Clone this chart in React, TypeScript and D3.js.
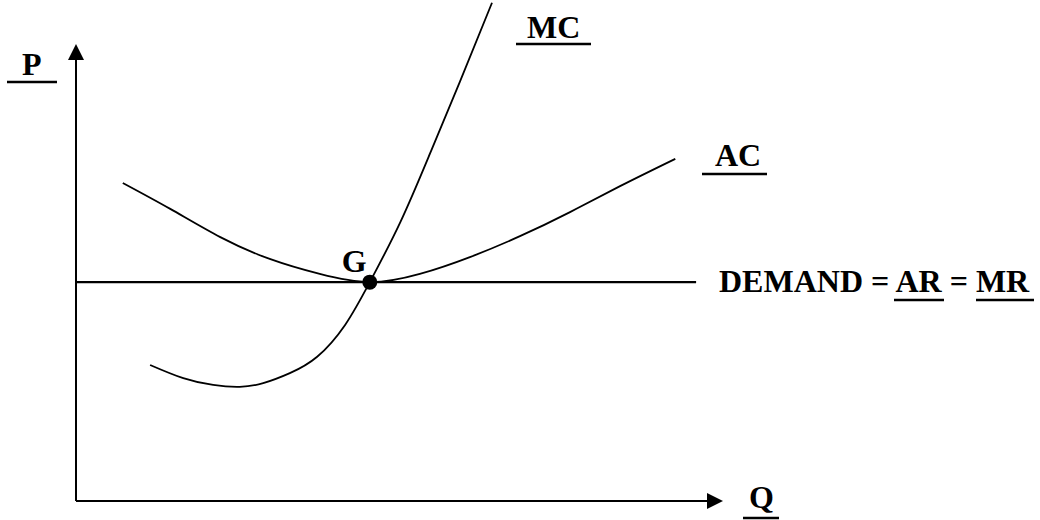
import React from 'react';
import * as d3 from 'd3';

// curves, in (quantity, price) units
const mcQ = [11.4, 16.5, 21.1, 25.2, 28.8, 32.9, 37.1, 41.4, 45.2, 49.9, 54.5, 59.1, 64.0];
const mcP = [29.9, 27.0, 25.5, 25.1, 25.9, 28.1, 31.7, 38.7, 48.1, 61.3, 76.5, 92.3, 109.5];
const acQ = [7.2, 14.5, 22.2, 29.8, 37.5, 45.2, 52.9, 60.6, 68.3, 76.0, 83.7, 92.2];
const acP = [69.9, 64.2, 58.0, 53.2, 49.9, 48.1, 49.9, 53.6, 58.2, 63.5, 69.2, 75.2];
const demandQ = [0, 95.4];
const demandP = [48.1, 48.1];
const equilibrium = { q: 45.2, p: 48.1, label: 'G' };

const W = 1040;
const H = 520;
const FONT = '"Liberation Serif", "Times New Roman", serif';

export default function App() {
  const x = d3.scaleLinear().domain([0, 100]).range([76, 726]);
  const y = d3.scaleLinear().domain([0, 100]).range([501, 46]);

  const line = d3
    .line<[number, number]>()
    .x((d) => x(d[0]))
    .y((d) => y(d[1]))
    .curve(d3.curveNatural);

  const mc = line(mcQ.map((q, i) => [q, mcP[i]]));
  const ac = line(acQ.map((q, i) => [q, acP[i]]));
  const demand = line(demandQ.map((q, i) => [q, demandP[i]]));

  const x0 = x(0);
  const y0 = y(0);
  const yTop = 44;
  const xEnd = 723;

  const txt = { fontFamily: FONT, fontWeight: 700, fontSize: 32, fill: '#000' };

  return (
    <svg width={W} height={H} style={{ position: 'absolute', left: 0, top: 0, background: '#fff' }}>
      {/* axes */}
      <line x1={x0} y1={y0} x2={x0} y2={yTop + 12} stroke="#000" strokeWidth={2} />
      <polygon points={`${x0},${yTop} ${x0 - 8},${yTop + 16} ${x0 + 8},${yTop + 16}`} fill="#000" />
      <line x1={x0} y1={y0} x2={xEnd - 12} y2={y0} stroke="#000" strokeWidth={2} />
      <polygon points={`${xEnd},${y0} ${xEnd - 16},${y0 - 8} ${xEnd - 16},${y0 + 8}`} fill="#000" />

      {/* curves */}
      <path d={demand || ''} stroke="#000" strokeWidth={2.4} fill="none" />
      <path d={ac || ''} stroke="#000" strokeWidth={1.8} fill="none" />
      <path d={mc || ''} stroke="#000" strokeWidth={1.8} fill="none" />
      <circle cx={x(equilibrium.q)} cy={y(equilibrium.p)} r={7.5} fill="#000" />
      <text {...txt} x={x(equilibrium.q) - 28} y={y(equilibrium.p) - 10}>{equilibrium.label}</text>

      {/* labels */}
      <text {...txt} x={22} y={75}>P</text>
      <line x1={7} x2={57} y1={82} y2={82} stroke="#000" strokeWidth={2.5} />

      <text {...txt} x={527} y={38}>MC</text>
      <line x1={516} x2={591} y1={44} y2={44} stroke="#000" strokeWidth={2.5} />

      <text {...txt} x={715} y={166}>AC</text>
      <line x1={702} x2={767} y1={174} y2={174} stroke="#000" strokeWidth={2.5} />

      <text {...txt} x={719} y={292}>DEMAND = AR = MR</text>
      <line x1={894} x2={944} y1={300} y2={300} stroke="#000" strokeWidth={2.5} />
      <line x1={976} x2={1034} y1={300} y2={300} stroke="#000" strokeWidth={2.5} />

      <text {...txt} x={749} y={508}>Q</text>
      <line x1={743} x2={779} y1={518} y2={518} stroke="#000" strokeWidth={2.5} />
    </svg>
  );
}
